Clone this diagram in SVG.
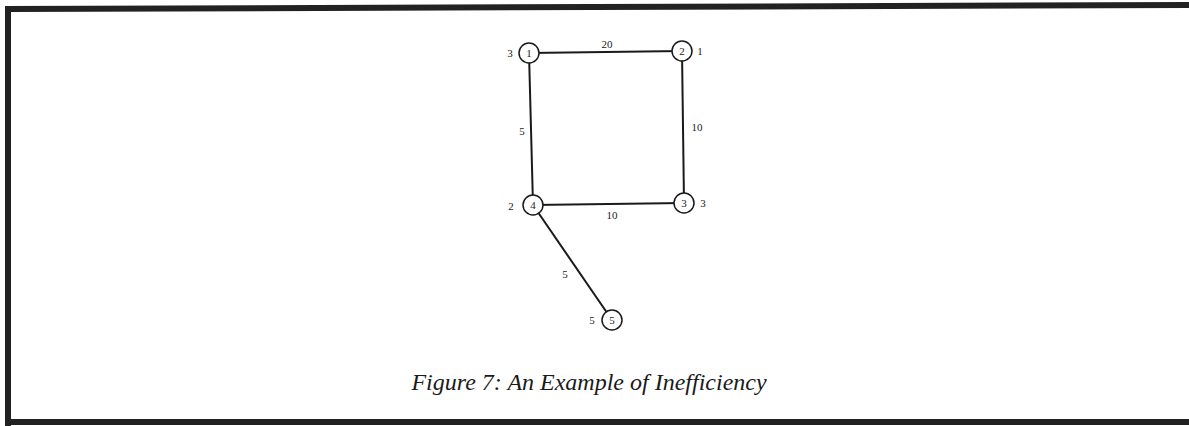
<svg xmlns="http://www.w3.org/2000/svg" width="1189" height="426" viewBox="0 0 1189 426">
<style>
.frame{stroke:#222;stroke-width:6;fill:none}
.edge{stroke:#1a1a1a;stroke-width:2;fill:none}
.node circle{fill:#fff;stroke:#1a1a1a;stroke-width:1.5}
.lbl{font-family:"Liberation Serif",serif;font-size:11px;fill:#222;text-anchor:middle}
.cap{font-family:"Liberation Serif",serif;font-style:italic;font-size:24px;fill:#1a1a1a;text-anchor:middle}
</style>
<rect width="1189" height="426" fill="#fff"/>
<path class="frame" d="M8,426 L8,9 L1189,5 M8,422 L1189,422"/>
<g id="connectors">
<line class="edge" x1="529" y1="53" x2="682" y2="51"/>
<line class="edge" x1="529" y1="53" x2="533" y2="205"/>
<line class="edge" x1="682" y1="51" x2="684" y2="203"/>
<line class="edge" x1="533" y1="205" x2="684" y2="203"/>
<line class="edge" x1="533" y1="205" x2="612" y2="320"/>
<text class="lbl" x="607" y="48">20</text>
<text class="lbl" x="522" y="135">5</text>
<text class="lbl" x="697" y="131">10</text>
<text class="lbl" x="612" y="219">10</text>
<text class="lbl" x="565" y="278">5</text>
</g>
<g id="n1" class="node"><circle cx="529" cy="53" r="10"/><text class="lbl" x="529" y="57">1</text><text class="lbl" x="510" y="57">3</text></g>
<g id="n2" class="node"><circle cx="682" cy="51" r="10"/><text class="lbl" x="682" y="55">2</text><text class="lbl" x="700" y="55">1</text></g>
<g id="n3" class="node"><circle cx="684" cy="203" r="10"/><text class="lbl" x="684" y="207">3</text><text class="lbl" x="703" y="207">3</text></g>
<g id="n4" class="node"><circle cx="533" cy="205" r="10"/><text class="lbl" x="533" y="209">4</text><text class="lbl" x="511" y="210">2</text></g>
<g id="n5" class="node"><circle cx="612" cy="320" r="10"/><text class="lbl" x="612" y="324">5</text><text class="lbl" x="592" y="324">5</text></g>
<text class="cap" x="589" y="390">Figure 7: An Example of Inefficiency</text>
</svg>
